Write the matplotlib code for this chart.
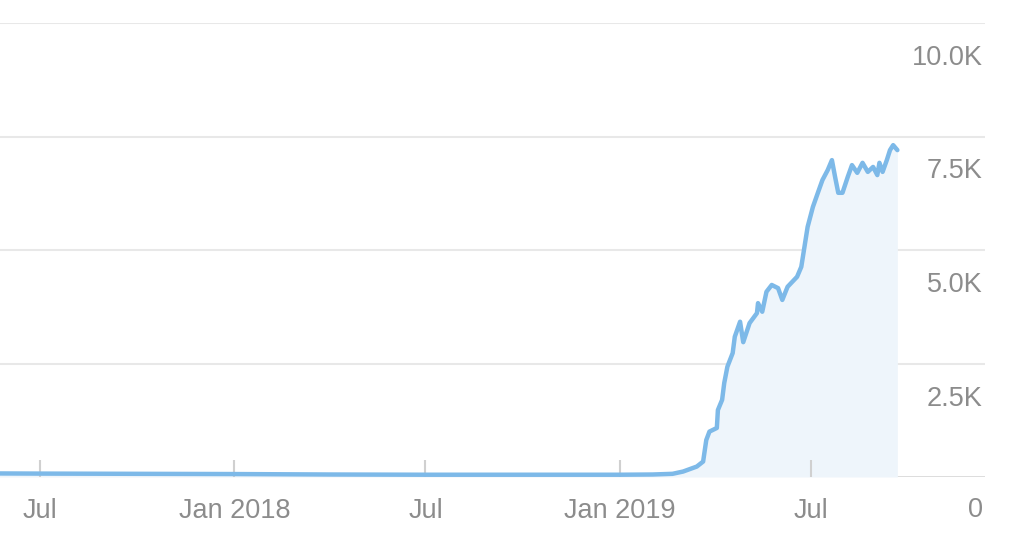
import matplotlib.pyplot as plt
import matplotlib.transforms as mtransforms
import pandas as pd

plt.rcParams['font.family'] = ['Liberation Sans', 'DejaVu Sans']

# values
dates = [
    "2017-05-01", "2017-07-01", "2017-10-01", "2018-01-01", "2018-04-01",
    "2018-07-01", "2018-10-01", "2019-01-01", "2019-02-01", "2019-02-20",
    "2019-03-02", "2019-03-15", "2019-03-21", "2019-03-24", "2019-03-27",
    "2019-04-03", "2019-04-04", "2019-04-08", "2019-04-10", "2019-04-13",
    "2019-04-18", "2019-04-20", "2019-04-25", "2019-04-28", "2019-05-04",
    "2019-05-11", "2019-05-12", "2019-05-16", "2019-05-20", "2019-05-25",
    "2019-05-31", "2019-06-04", "2019-06-09", "2019-06-18", "2019-06-22",
    "2019-06-25", "2019-06-28", "2019-07-03", "2019-07-08", "2019-07-12",
    "2019-07-17", "2019-07-21", "2019-07-24", "2019-07-27", "2019-07-31",
    "2019-08-05", "2019-08-09", "2019-08-14", "2019-08-19", "2019-08-24",
    "2019-08-29", "2019-09-02", "2019-09-04", "2019-09-07", "2019-09-11",
    "2019-09-14", "2019-09-17", "2019-09-21",
]
visits = [
    80, 75, 70, 65, 55,
    50, 50, 50, 55, 70,
    120, 230, 340, 815, 1000,
    1080, 1475, 1700, 2070, 2430,
    2730, 3090, 3420, 2970, 3390,
    3610, 3830, 3640, 4080, 4230,
    4160, 3900, 4190, 4410, 4630,
    5070, 5510, 5950, 6280, 6540,
    6760, 6980, 6610, 6260, 6260,
    6610, 6870, 6700, 6920, 6720,
    6830, 6650, 6920, 6720, 6980,
    7200, 7310, 7200,
]
ytick_vals = [0, 2500, 5000, 7500, 10000]
ytick_labels = ["0", "2.5K", "5.0K", "7.5K", "10.0K"]
xtick_dates = ["2017-07-01", "2018-01-01", "2018-07-01", "2019-01-01", "2019-07-01"]
xtick_labels = ["Jul", "Jan 2018", "Jul", "Jan 2019", "Jul"]

x = pd.to_datetime(dates)

fig = plt.figure(figsize=(10.24, 5.57), dpi=100)
ax = fig.add_axes([0, 80 / 557, 985 / 1024, (477 - 23) / 557])

ax.fill_between(x, visits, 0, color='#eef5fb', linewidth=0)
ax.plot(x, visits, color='#7db9e8', linewidth=3.2, solid_joinstyle='round', solid_capstyle='round')

ax.set_xlim(pd.Timestamp("2017-05-24"), pd.Timestamp("2019-12-13"))
ax.set_ylim(0, 10000)

for s in ax.spines.values():
    s.set_visible(False)

# horizontal grid
for v in ytick_vals:
    ax.axhline(v, color='#d9d9d9' if v == 0 else '#e8e8e8', linewidth=2 if v == 0 else 1.5, zorder=0.5)

# y labels sit below their gridline, on the right
ax.set_yticks([])
offset = mtransforms.ScaledTranslation(-2 / 100, -35 / 100, fig.dpi_scale_trans)
offset0 = mtransforms.ScaledTranslation(-2 / 100, -33 / 100, fig.dpi_scale_trans)
for v, lab in zip(ytick_vals, ytick_labels):
    ax.text(1.0, v, lab, transform=ax.get_yaxis_transform() + (offset0 if v == 0 else offset),
            ha='right', va='center', fontsize=19.5, color='#8c8c8c')

ax.set_xticks(pd.to_datetime(xtick_dates))
ax.set_xticklabels(xtick_labels)
ax.tick_params(axis='x', direction='in', length=12, width=1.5, color='#d0d0d0',
               labelsize=19.5, labelcolor='#8c8c8c', pad=15)

fig.savefig('out.png', dpi=100)
